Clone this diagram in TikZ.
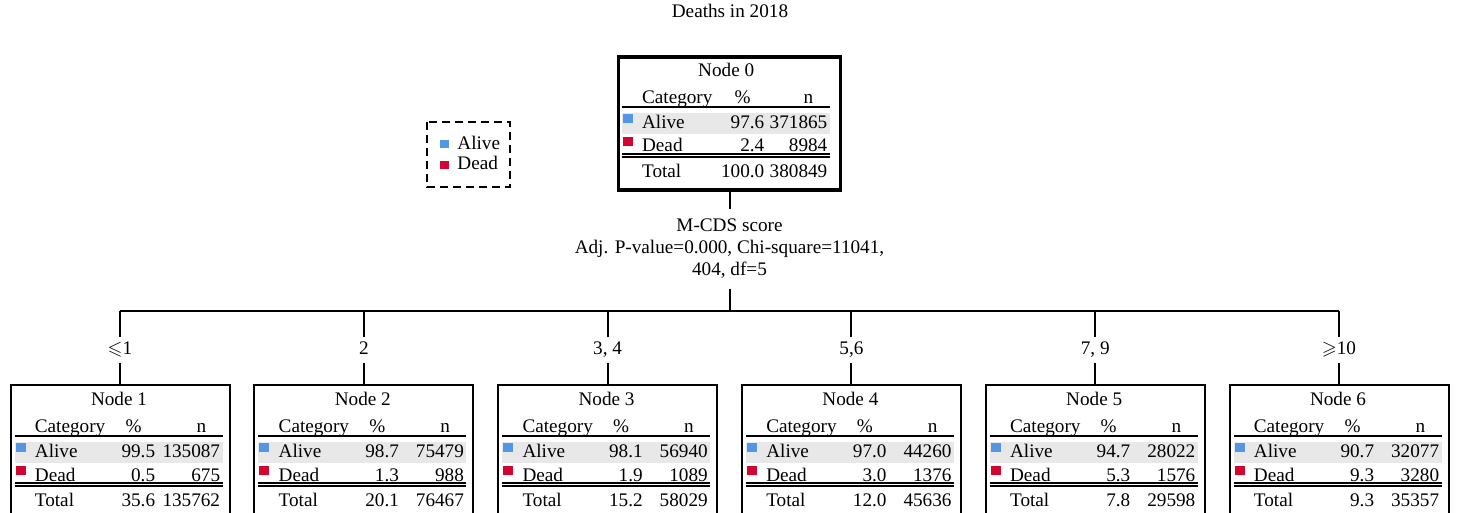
\documentclass[tikz,border=0pt]{standalone}
\usepackage{amssymb}
\usepackage{fontspec}
\setmainfont{Liberation Serif}
\usetikzlibrary{calc}
\definecolor{alivecol}{RGB}{84,150,230}
\definecolor{deadcol}{RGB}{210,5,50}
\definecolor{rowgray}{RGB}{232,232,232}
\def\treebox{\node[draw=black,line width=1pt,anchor=north,minimum width=109.5pt,minimum height=66.5pt,inner sep=0pt]}
\def\cutlabel{\node[anchor=base,inner xsep=1pt,inner ysep=1.75pt,text height=7pt,text depth=2pt]}
% #1 right edge of % column, #2 box, #3 title, then alive, dead, total (% and n)
\newcommand\boxtable[9][146]{%
  \begin{scope}[shift={(#2.north west)}]
    \fill[rowgray] (5,58) rectangle (213,79);
    \fill[alivecol] (6,59) rectangle (16,68);
    \fill[deadcol] (6,82) rectangle (16,91);
    \node[cell,anchor=base] at (109.5,22) {#3};
    \node[cell] at (25,49) {Category};
    \node[cell,anchor=base] at (#1-22,49) {\%};
    \node[num] at (197,49) {n};
    \draw[rule] (5,52) -- (213,52);
    \node[cell] at (25,74) {Alive};
    \node[num] at (#1,74) {#4};
    \node[num] at (211,74) {#5};
    \node[cell] at (25,97) {Dead};
    \node[num] at (#1,97) {#6};
    \node[num] at (211,97) {#7};
    \draw[rule] (5,99) -- (213,99) (5,102) -- (213,102);
    \node[cell] at (25,123) {Total};
    \node[num] at (#1,123) {#8};
    \node[num] at (211,123) {#9};
  \end{scope}}

\begin{document}
\begin{tikzpicture}[x=0.5pt,y=-0.5pt,font=\fontsize{9.6}{11}\selectfont,
  cell/.style={inner sep=0pt,anchor=base west},
  num/.style={inner sep=0pt,anchor=base east},
  rule/.style={line width=0.75pt},
  link/.style={line width=1pt}]
\useasboundingbox (0,0) rectangle (1458,513);
\clip (0,0) rectangle (1458,513);
\node[anchor=base] (title) at (730,18) {Deaths in 2018};

% legend
\draw[line width=1pt,dash pattern=on 4pt off 2.5pt] (427,122) rectangle (510,187);
\fill[alivecol] (440,140) rectangle (449,148);
\fill[deadcol] (440,161) rectangle (449,169);
\node[cell] (legalive) at (457,150) {Alive};
\node[cell] (legdead) at (457,170) {Dead};

% root
\node[draw=black,line width=1.8pt,anchor=north,minimum width=111pt,minimum height=66.5pt,inner sep=0pt] (n0) at (729.5,55) {};
\boxtable[148]{n0}{Node 0}{97.6}{371865}{2.4}{8984}{100.0}{380849}
\node[align=center,inner ysep=5pt] (split) at (729.5,249) {M-CDS score\\Adj. P-value=0.000, Chi-square=11041,\\404, df=5};
\draw[link] (n0) -- (split);

% children
\treebox (n1) at (120,384) {};
\treebox (n2) at (363.8,384) {};
\treebox (n3) at (607.6,384) {};
\treebox (n4) at (851.4,384) {};
\treebox (n5) at (1095.2,384) {};
\treebox (n6) at (1339,384) {};
\boxtable{n1}{Node 1}{99.5}{135087}{0.5}{675}{35.6}{135762}
\boxtable{n2}{Node 2}{98.7}{75479}{1.3}{988}{20.1}{76467}
\boxtable{n3}{Node 3}{98.1}{56940}{1.9}{1089}{15.2}{58029}
\boxtable{n4}{Node 4}{97.0}{44260}{3.0}{1376}{12.0}{45636}
\boxtable{n5}{Node 5}{94.7}{28022}{5.3}{1576}{7.8}{29598}
\boxtable{n6}{Node 6}{90.7}{32077}{9.3}{3280}{9.3}{35357}

% branches
\coordinate (b0) at (729.5,311);
\coordinate (b1) at (120,311);
\coordinate (b2) at (363.8,311);
\coordinate (b3) at (607.6,311);
\coordinate (b4) at (851.4,311);
\coordinate (b5) at (1095.2,311);
\coordinate (b6) at (1339,311);
\draw[link] (split) -- (b0);
\draw[link] (b1) -- (b6);
\cutlabel (l1) at (120,355) {$\leqslant$1};
\cutlabel (l2) at (363.8,355) {2};
\cutlabel (l3) at (607.6,355) {3, 4};
\cutlabel (l4) at (851.4,355) {5,6};
\cutlabel (l5) at (1095.2,355) {7, 9};
\cutlabel (l6) at (1339,355) {$\geqslant$10};
\draw[link] (b1) -- (l1) -- (n1);
\draw[link] (b2) -- (l2) -- (n2);
\draw[link] (b3) -- (l3) -- (n3);
\draw[link] (b4) -- (l4) -- (n4);
\draw[link] (b5) -- (l5) -- (n5);
\draw[link] (b6) -- (l6) -- (n6);
\end{tikzpicture}
\end{document}
